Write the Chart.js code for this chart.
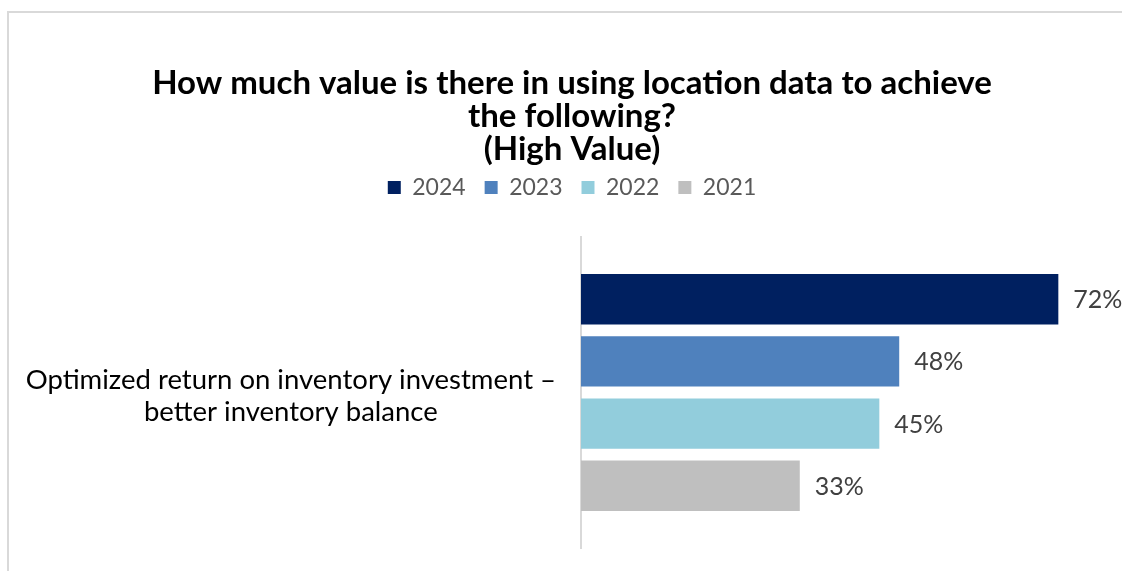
<!DOCTYPE html>
<html>
<head>
<meta charset="utf-8">
<title>Location data value</title>
<script src="https://cdn.jsdelivr.net/npm/chart.js@4/dist/chart.umd.min.js"></script>
<style>
  html, body { margin: 0; padding: 0; background: #ffffff; }
  #frame {
    position: absolute; left: 7px; top: 11px; right: 0; bottom: 0;
    border-top: 2px solid #d9d9d9; border-left: 2px solid #d9d9d9;
  }
  #wrap { position: absolute; left: 0; top: 0; width: 1122px; height: 571px; }
</style>
</head>
<body>
<div id="frame"></div>
<div id="wrap"><canvas id="chart"></canvas></div>
<script>
// chart data
const categories = [['Optimized return on inventory investment \u2013', 'better inventory balance']];
const years = ['2024', '2023', '2022', '2021'];
const values2024 = [72];
const values2023 = [48];
const values2022 = [45];
const values2021 = [33];
const yearColors = ['#002060', '#4f81bd', '#92cddc', '#bfbfbf'];

const FONT = 'Lato, "Open Sans", sans-serif';

// value labels to the right of each bar
const barLabels = {
  id: 'barLabels',
  afterDatasetsDraw(chart) {
    const ctx = chart.ctx;
    ctx.save();
    ctx.font = '25px ' + FONT;
    ctx.fillStyle = '#404040';
    ctx.textAlign = 'left';
    ctx.textBaseline = 'middle';
    chart.data.datasets.forEach((ds, i) => {
      const meta = chart.getDatasetMeta(i);
      meta.data.forEach((bar, j) => {
        ctx.fillText(ds.data[j] + '%', bar.x + 15, bar.y + 1);
      });
    });
    ctx.restore();
  }
};

// extra room below the legend
const legendSpacer = {
  id: 'legendSpacer',
  beforeInit(chart) {
    const fit = chart.legend.fit;
    chart.legend.fit = function () {
      fit.bind(chart.legend)();
      this.height += 28;
    };
  }
};

const datasets = [values2024, values2023, values2022, values2021].map((vals, i) => ({
  label: years[i],
  data: vals,
  backgroundColor: yearColors[i],
  borderWidth: 0,
  categoryPercentage: 0.8,
  barPercentage: 0.81
}));

new Chart(document.getElementById('chart'), {
  type: 'bar',
  data: { labels: categories, datasets: datasets },
  plugins: [barLabels, legendSpacer],
  options: {
    indexAxis: 'y',
    responsive: true,
    maintainAspectRatio: false,
    animation: false,
    layout: { padding: { left: 26, right: 4, top: 0, bottom: 23 } },
    plugins: {
      title: {
        display: true,
        text: ['How much value is there in using location data to achieve', 'the following?', '(High Value)'],
        color: '#000000',
        font: { family: FONT, size: 33, weight: 'bold', lineHeight: 1.0 },
        padding: { top: 67, bottom: -9 }
      },
      legend: {
        position: 'top',
        labels: {
          color: '#595959',
          font: { family: FONT, size: 23 },
          boxWidth: 13,
          boxHeight: 13,
          padding: 19
        }
      },
      tooltip: { enabled: false }
    },
    scales: {
      x: {
        display: false,
        min: 0,
        max: 81
      },
      y: {
        afterFit(scale) {
          scale.width = 555;
          scale.paddingTop = 0;
          scale.paddingBottom = 0;
        },
        grid: { display: false, drawTicks: false },
        border: { display: true, color: '#d9d9d9', width: 2 },
        ticks: {
          color: '#000000',
          crossAlign: 'center',
          padding: 25,
          labelOffset: 4,
          font: { family: FONT, size: 27.5, lineHeight: 1.16 }
        }
      }
    }
  }
});
</script>
</body>
</html>
